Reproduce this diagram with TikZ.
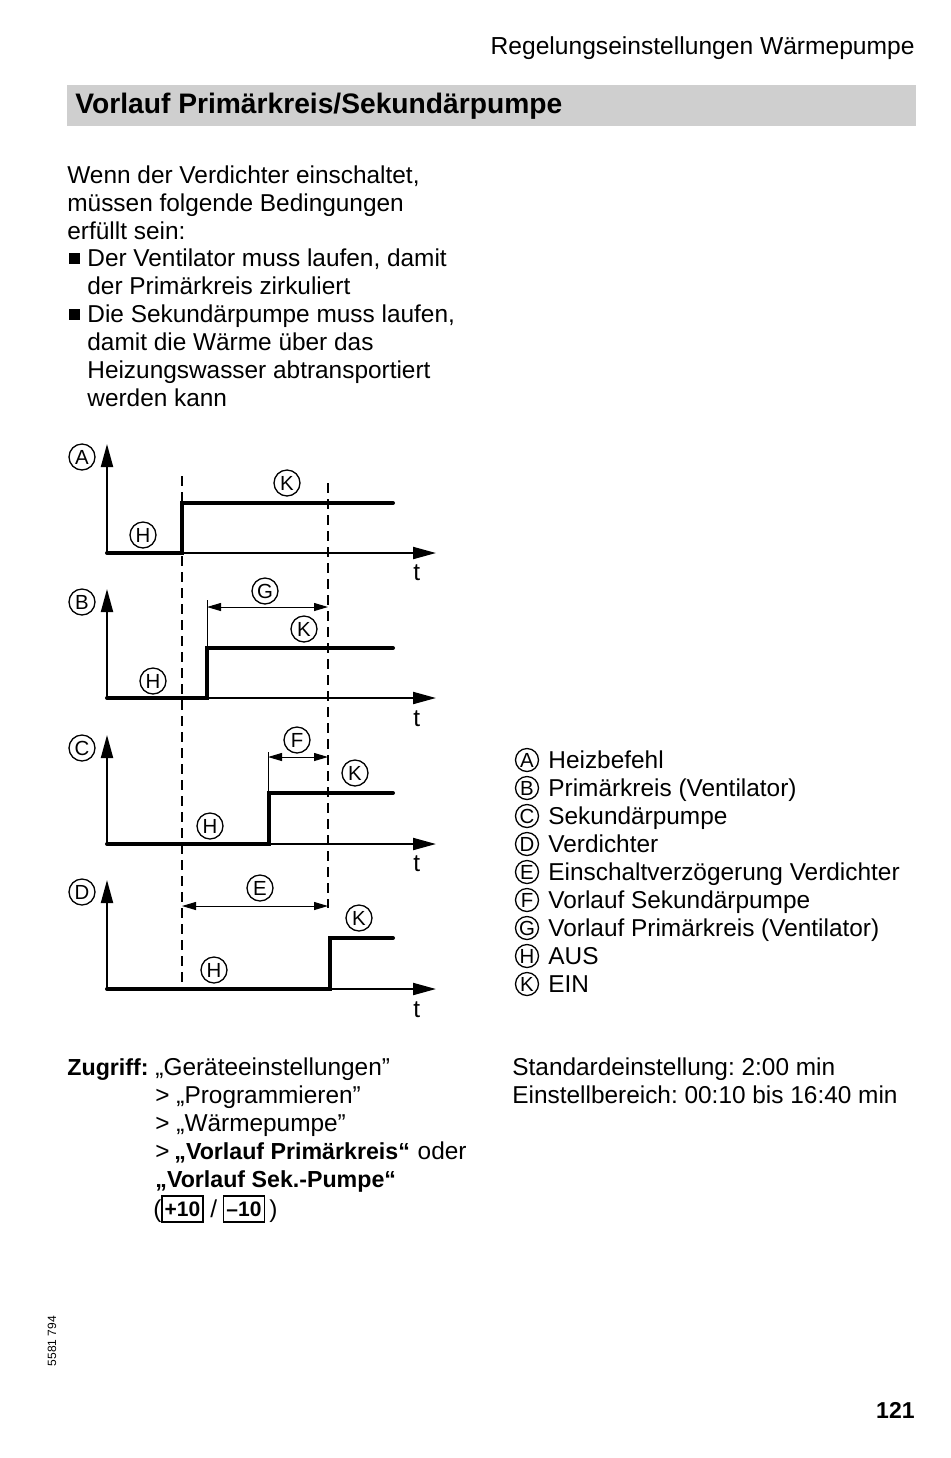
\documentclass[tikz,border=0pt]{standalone}
\usepackage{fontspec}
\setmainfont{Liberation Sans}
\usetikzlibrary{arrows.meta}
\definecolor{band}{RGB}{207,207,207}
\frenchspacing
\begin{document}
\begin{tikzpicture}[x=0.5pt,y=-0.5pt,
 txt/.style={anchor=base west, inner sep=0, font=\fontsize{12.2}{14}\selectfont},
 btxt/.style={anchor=base west, inner sep=0, font=\fontsize{11.6}{14}\bfseries},
 circ/.style={inner sep=0, font=\fontsize{10.2}{11}\selectfont,
   append after command={\pgfextra{\let\lastnode\tikzlastnode}
     (\lastnode.center) circle[radius=13]}},
 lcirc/.style={inner sep=0, font=\fontsize{10.2}{11}\selectfont,
   append after command={\pgfextra{\let\lastnode\tikzlastnode}
     (\lastnode.center) circle[radius=11.5]}},
 ring/.style={line width=0.65pt},
 axisline/.style={line width=1pt, -{Triangle[length=11.5pt,width=6pt]}},
 sig/.style={line width=2pt, line cap=round, line join=miter},
 dashline/.style={line width=0.65pt, dash pattern=on 5pt off 3pt},
 dimline/.style={line width=0.5pt, {Triangle[length=7pt,width=4pt]}-{Triangle[length=7pt,width=4pt]}},
 thinline/.style={line width=0.5pt},
 keybox/.style={draw, line width=0.6pt, inner sep=0, minimum width=20.5pt, minimum height=13pt, font=\fontsize{10.5}{12}\bfseries}]
\useasboundingbox (0,0) rectangle (950,1458);
% header
\node[anchor=base east, inner sep=0, font=\fontsize{12.3}{14}\selectfont] (hdr) at (915,54) {Regelungseinstellungen Wärmepumpe};
\fill[band] (67,85) rectangle (916,126);
\node[anchor=base west, inner sep=0, font=\fontsize{14.1}{16}\bfseries] (title) at (75,113) {Vorlauf Primärkreis/Sekundärpumpe};
% paragraph
\node[txt] (p1) at (67,183) {Wenn der Verdichter einschaltet,};
\node[txt] (p2) at (67,211) {müssen folgende Bedingungen};
\node[txt] (p3) at (67,239) {erfüllt sein:};
\fill (69,253) rectangle (80,264);
\node[txt] (p4) at (87,266) {Der Ventilator muss laufen, damit};
\node[txt] (p5) at (87,294) {der Primärkreis zirkuliert};
\fill (69,309) rectangle (80,320);
\node[txt] (p6) at (87,322) {Die Sekundärpumpe muss laufen,};
\node[txt] (p7) at (87,350) {damit die Wärme über das};
\node[txt] (p8) at (87,378) {Heizungswasser abtransportiert};
\node[txt] (p9) at (87,406) {werden kann};
% dashed reference lines
\coordinate (d1t) at (182,476); \coordinate (d1b) at (182,990);
\coordinate (d2t) at (328,483); \coordinate (d2b) at (328,908);
\draw[dashline] (d1t) -- (d1b);
\draw[dashline] (d2t) -- (d2b);
% panel A
\coordinate (oA) at (107,553);
\draw[axisline] (oA) -- (107,444);
\draw[axisline] (oA) -- (436,553);
\draw[sig] (oA) -- (182,553) -- (182,503) -- (393,503);
\draw[ring] node[circ] (lA) at (82,457) {A};
\draw[ring] node[circ] (hA) at (143,535) {H};
\draw[ring] node[circ] (kA) at (287,483) {K};
\node[txt] (tA) at (413,580) {t};
% panel B
\coordinate (oB) at (107,698);
\draw[axisline] (oB) -- (107,589);
\draw[axisline] (oB) -- (436,698);
\draw[sig] (oB) -- (207,698) -- (207,648) -- (393,648);
\draw[thinline] (207,600) -- (207,648);
\draw[dimline] (207,607) -- (328,607);
\draw[ring] node[circ] (lB) at (82,602) {B};
\draw[ring] node[circ] (hB) at (153,681) {H};
\draw[ring] node[circ] (kB) at (304,629) {K};
\draw[ring] node[circ] (gB) at (265,591) {G};
\node[txt] (tB) at (413,726) {t};
% panel C
\coordinate (oC) at (107,844);
\draw[axisline] (oC) -- (107,735);
\draw[axisline] (oC) -- (436,844);
\draw[sig] (oC) -- (269,844) -- (269,793) -- (393,793);
\draw[thinline] (268,752) -- (268,793);
\draw[dimline] (268,757) -- (328,757);
\draw[ring] node[circ] (lC) at (82,748) {C};
\draw[ring] node[circ] (hC) at (210,826) {H};
\draw[ring] node[circ] (kC) at (355,773) {K};
\draw[ring] node[circ] (fC) at (297,740) {F};
\node[txt] (tC) at (413,871) {t};
% panel D
\coordinate (oD) at (107,989);
\draw[axisline] (oD) -- (107,880);
\draw[axisline] (oD) -- (436,989);
\draw[sig] (oD) -- (330,989) -- (330,938) -- (393,938);
\draw[dimline] (182,906) -- (328,906);
\draw[ring] node[circ] (lD) at (82,892) {D};
\draw[ring] node[circ] (hD) at (214,970) {H};
\draw[ring] node[circ] (kD) at (359,918) {K};
\draw[ring] node[circ] (eD) at (260,888) {E};
\node[txt] (tD) at (413,1017) {t};
% legend
\foreach \L/\T [count=\i from 0] in {A/Heizbefehl,B/Primärkreis (Ventilator),C/Sekundärpumpe,D/Verdichter,E/Einschaltverzögerung Verdichter,F/Vorlauf Sekundärpumpe,G/Vorlauf Primärkreis (Ventilator),H/AUS,K/EIN}{
  \draw[ring] node[lcirc] (leg\i) at (527,760+28*\i) {\L};
  \node[txt] (legt\i) at (548,768+28*\i) {\T};
}
% access path
\node[btxt] (zg) at (67,1075) {Zugriff:};
\node[txt] (z1) at (155,1075) {„Geräteeinstellungen”};
\node[txt] (z2) at (155,1103) {> „Programmieren”};
\node[txt] (z3) at (155,1131) {> „Wärmepumpe”};
\node[txt] (z4a) at (155,1159) {>};
\node[btxt] (z4b) at (174,1159) {„Vorlauf Primärkreis“};
\node[txt, anchor=base west] (z4c) at ([xshift=3.5pt]z4b.base east) {oder};
\node[btxt] (z5) at (155,1187) {„Vorlauf Sek.-Pumpe“};
\node[txt] (z6a) at (153,1217) {(};
\node[keybox] (kp) at (182.5,1209) {+10};
\node[txt] (z6b) at (210,1217) {/};
\node[keybox] (km) at (244,1209) {–10};
\node[txt] (z6c) at (269,1217) {)};
% settings
\node[txt] (s1) at (512,1075) {Standardeinstellung: 2:00 min};
\node[txt] (s2) at (512,1103) {Einstellbereich: 00:10 bis 16:40 min};
% footer
\node[rotate=90, inner sep=0, font=\fontsize{6}{7}\selectfont] (docno) at (52,1341) {5581 794};
\node[anchor=base east, inner sep=0, font=\fontsize{11.5}{14}\bfseries] (pg) at (915,1418) {121};
\end{tikzpicture}
\end{document}
